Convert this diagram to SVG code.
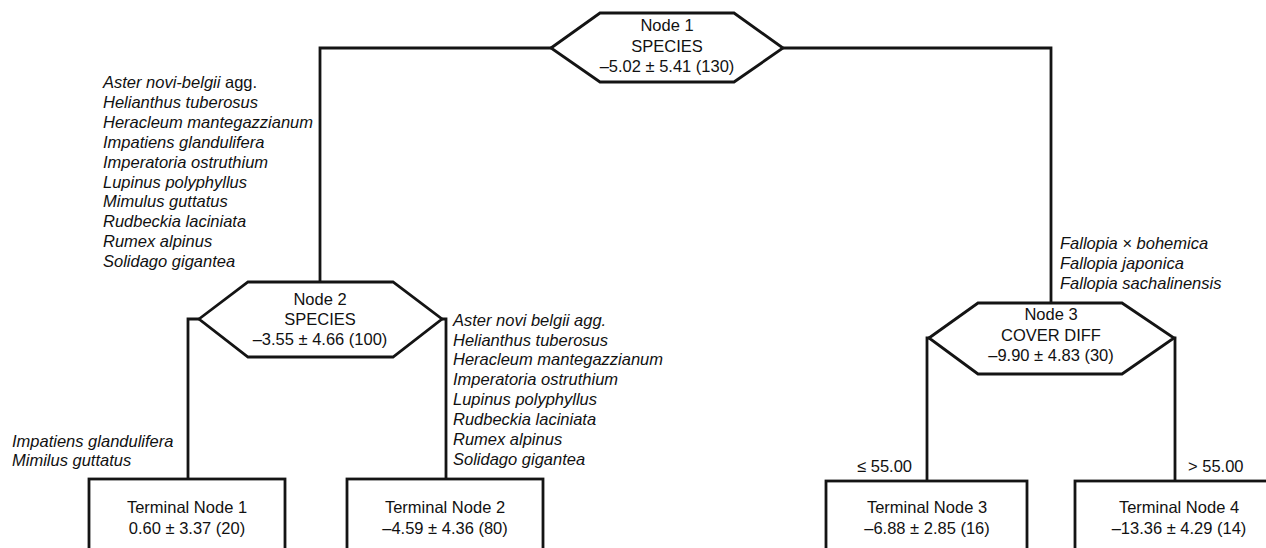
<svg xmlns="http://www.w3.org/2000/svg" width="1266" height="548" viewBox="0 0 1266 548">
<style>
.n{fill:#fff;stroke:#141414;stroke-width:2.8;stroke-linejoin:miter}
.c{fill:none;stroke:#141414;stroke-width:2.8}
text{font-family:"Liberation Sans",Arial,Helvetica,sans-serif;font-size:16.5px;fill:#111}
.t{text-anchor:middle}
.i{font-style:italic}
</style>
<rect width="1266" height="548" fill="#fff"/>
<g id="connectors">
<polyline class="c" points="320,282 320,48 551,48"/>
<polyline class="c" points="783,48 1051,48 1051,303"/>
<polyline class="c" points="199,319 188,319 188,479"/>
<polyline class="c" points="442,319 446,319 446,479"/>
<polyline class="c" points="929,338 927,338 927,481"/>
<polyline class="c" points="1174,338 1175,338 1175,481"/>
</g>
<g id="labels">
<g class="i">
<text x="103" y="88">Aster novi-belgii <tspan font-style="normal">agg.</tspan></text>
<text x="103" y="108">Helianthus tuberosus</text>
<text x="103" y="128">Heracleum mantegazzianum</text>
<text x="103" y="148">Impatiens glandulifera</text>
<text x="103" y="168">Imperatoria ostruthium</text>
<text x="103" y="188">Lupinus polyphyllus</text>
<text x="103" y="207">Mimulus guttatus</text>
<text x="103" y="227">Rudbeckia laciniata</text>
<text x="103" y="247">Rumex alpinus</text>
<text x="103" y="267">Solidago gigantea</text>
<text x="453" y="326">Aster novi belgii agg.</text>
<text x="453" y="346">Helianthus tuberosus</text>
<text x="453" y="365">Heracleum mantegazzianum</text>
<text x="453" y="385">Imperatoria ostruthium</text>
<text x="453" y="405">Lupinus polyphyllus</text>
<text x="453" y="425">Rudbeckia laciniata</text>
<text x="453" y="445">Rumex alpinus</text>
<text x="453" y="465">Solidago gigantea</text>
<text x="12" y="447">Impatiens glandulifera</text>
<text x="12" y="466">Mimilus guttatus</text>
<text x="1060" y="249">Fallopia × bohemica</text>
<text x="1060" y="269">Fallopia japonica</text>
<text x="1060" y="289">Fallopia sachalinensis</text>
</g>
<text x="912" y="472" text-anchor="end">≤ 55.00</text>
<text x="1188" y="472">&gt; 55.00</text>
</g>
<g id="node1">
<polygon class="n" points="551,48 600,13 734,13 783,48 734,82 600,82"/>
<text class="t" x="667" y="31">Node 1</text>
<text class="t" x="667" y="52">SPECIES</text>
<text class="t" x="667" y="72">–5.02 ± 5.41 (130)</text>
</g>
<g id="node2">
<polygon class="n" points="199,319 248,282 393,282 442,319 393,357 248,357"/>
<text class="t" x="320" y="305">Node 2</text>
<text class="t" x="320" y="325">SPECIES</text>
<text class="t" x="320" y="345">–3.55 ± 4.66 (100)</text>
</g>
<g id="node3">
<polygon class="n" points="929,338 978,303 1122,303 1174,338 1122,374 978,374"/>
<text class="t" x="1051" y="320">Node 3</text>
<text class="t" x="1051" y="341">COVER DIFF</text>
<text class="t" x="1051" y="361">–9.90 ± 4.83 (30)</text>
</g>
<g id="terminal1">
<rect class="n" x="89" y="479" width="196" height="90"/>
<text class="t" x="187" y="513">Terminal Node 1</text>
<text class="t" x="187" y="534">0.60 ± 3.37 (20)</text>
</g>
<g id="terminal2">
<rect class="n" x="347" y="479" width="196" height="90"/>
<text class="t" x="445" y="513">Terminal Node 2</text>
<text class="t" x="445" y="534">–4.59 ± 4.36 (80)</text>
</g>
<g id="terminal3">
<rect class="n" x="826" y="481" width="201" height="90"/>
<text class="t" x="927" y="513">Terminal Node 3</text>
<text class="t" x="927" y="534">–6.88 ± 2.85 (16)</text>
</g>
<g id="terminal4">
<rect class="n" x="1075" y="481" width="208" height="90"/>
<text class="t" x="1179" y="513">Terminal Node 4</text>
<text class="t" x="1179" y="534">–13.36 ± 4.29 (14)</text>
</g>
</svg>
